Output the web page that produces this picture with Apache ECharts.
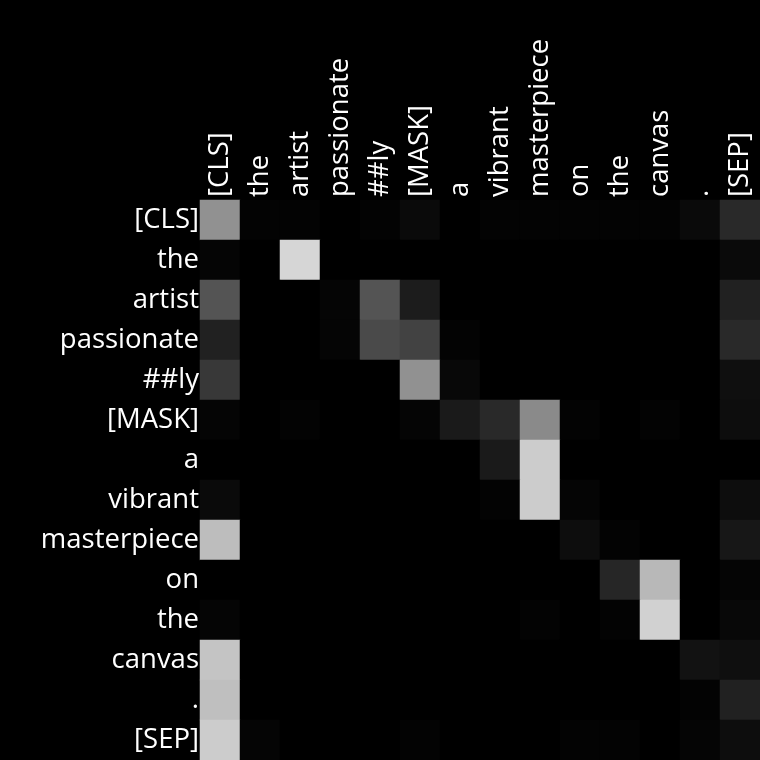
<!DOCTYPE html>
<html>
<head>
<meta charset="utf-8">
<style>
  html, body { margin: 0; padding: 0; background: #000; }
  #attnChart { width: 760px; height: 760px; }
</style>
<script src="https://cdn.jsdelivr.net/npm/echarts@6/dist/echarts.min.js"></script>
</head>
<body>
<div id="attnChart"></div>
<script>
// tokens on both axes
var tokens = ['[CLS]', 'the', 'artist', 'passionate', '##ly', '[MASK]', 'a',
              'vibrant', 'masterpiece', 'on', 'the', 'canvas', '.', '[SEP]'];

// attention weights, one row per query token
var rowCls         = [0.57, 0.01, 0.01, 0.00, 0.01, 0.04, 0.00, 0.01, 0.01, 0.01, 0.01, 0.01, 0.04, 0.16];
var rowThe1        = [0.02, 0.00, 0.84, 0.00, 0.00, 0.00, 0.00, 0.00, 0.00, 0.00, 0.00, 0.00, 0.00, 0.04];
var rowArtist      = [0.33, 0.00, 0.00, 0.02, 0.33, 0.11, 0.00, 0.00, 0.00, 0.00, 0.00, 0.00, 0.00, 0.13];
var rowPassionate  = [0.13, 0.00, 0.00, 0.02, 0.29, 0.26, 0.01, 0.00, 0.00, 0.00, 0.00, 0.00, 0.00, 0.16];
var rowLy          = [0.22, 0.00, 0.00, 0.00, 0.00, 0.57, 0.03, 0.00, 0.00, 0.00, 0.00, 0.00, 0.00, 0.06];
var rowMask        = [0.02, 0.00, 0.01, 0.00, 0.00, 0.02, 0.10, 0.16, 0.54, 0.01, 0.00, 0.01, 0.00, 0.05];
var rowA           = [0.00, 0.00, 0.00, 0.00, 0.00, 0.00, 0.00, 0.10, 0.80, 0.00, 0.00, 0.00, 0.00, 0.00];
var rowVibrant     = [0.04, 0.00, 0.00, 0.00, 0.00, 0.00, 0.00, 0.01, 0.80, 0.02, 0.00, 0.00, 0.00, 0.05];
var rowMasterpiece = [0.74, 0.00, 0.00, 0.00, 0.00, 0.00, 0.00, 0.00, 0.00, 0.05, 0.01, 0.00, 0.00, 0.09];
var rowOn          = [0.00, 0.00, 0.00, 0.00, 0.00, 0.00, 0.00, 0.00, 0.00, 0.00, 0.15, 0.72, 0.00, 0.02];
var rowThe2        = [0.02, 0.00, 0.00, 0.00, 0.00, 0.00, 0.00, 0.00, 0.01, 0.00, 0.01, 0.82, 0.00, 0.03];
var rowCanvas      = [0.77, 0.00, 0.00, 0.00, 0.00, 0.00, 0.00, 0.00, 0.00, 0.00, 0.00, 0.00, 0.07, 0.06];
var rowDot         = [0.75, 0.00, 0.00, 0.00, 0.00, 0.00, 0.00, 0.00, 0.00, 0.00, 0.00, 0.00, 0.01, 0.13];
var rowSep         = [0.80, 0.02, 0.00, 0.00, 0.00, 0.01, 0.00, 0.00, 0.00, 0.01, 0.01, 0.00, 0.02, 0.05];

var attention = [rowCls, rowThe1, rowArtist, rowPassionate, rowLy, rowMask, rowA,
                 rowVibrant, rowMasterpiece, rowOn, rowThe2, rowCanvas, rowDot, rowSep];

// heatmap wants [x, y, value]
var cells = [];
for (var r = 0; r < attention.length; r++) {
    for (var c = 0; c < attention[r].length; c++) {
        cells.push([c, r, attention[r][c]]);
    }
}

var myChart = echarts.init(document.getElementById('attnChart'));
var labelFont = {
    color: '#ffffff',
    fontFamily: 'Open Sans',
    fontSize: 27.5
};
var option = {
    backgroundColor: '#000000',
    animation: false,
    grid: { left: 200, top: 200, right: 0, bottom: 0 },
    xAxis: {
        type: 'category',
        position: 'top',
        data: tokens,
        axisLine: { show: false },
        axisTick: { show: false },
        splitLine: { show: false },
        axisLabel: Object.assign({ rotate: -90, margin: 3, interval: 0 }, labelFont)
    },
    yAxis: {
        type: 'category',
        inverse: true,
        data: tokens,
        axisLine: { show: false },
        axisTick: { show: false },
        splitLine: { show: false },
        axisLabel: Object.assign({ margin: 1, interval: 0, padding: [4, 0, 0, 0] }, labelFont)
    },
    visualMap: {
        show: false,
        min: 0,
        max: 1,
        dimension: 2,
        inRange: { color: ['#000000', '#ffffff'] }
    },
    series: [{
        type: 'heatmap',
        data: cells,
        itemStyle: { borderWidth: 0 },
        emphasis: { disabled: true }
    }]
};
myChart.setOption(option);
</script>
</body>
</html>
